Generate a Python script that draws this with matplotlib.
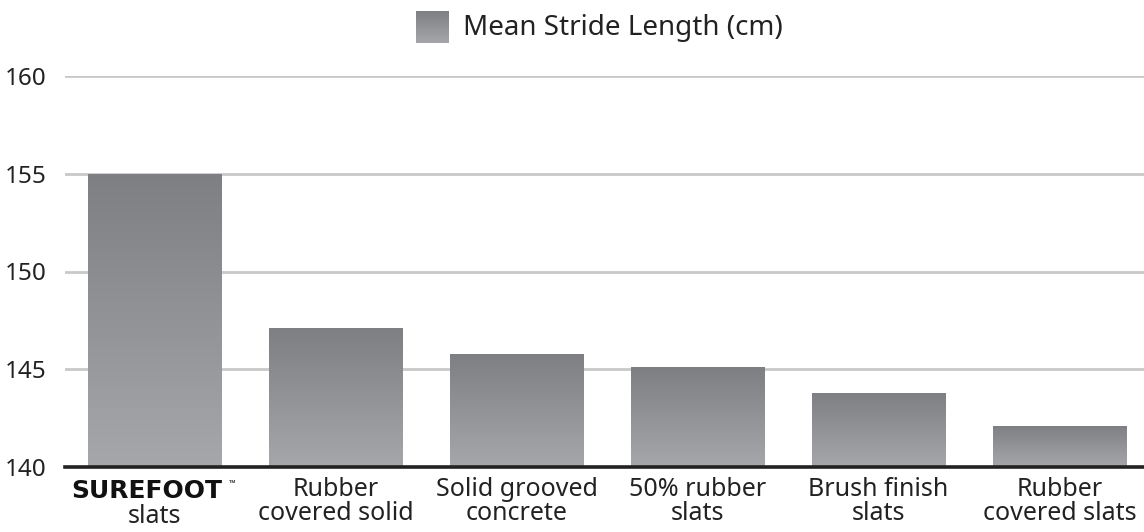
import numpy as np
import matplotlib.pyplot as plt
from matplotlib.colors import LinearSegmentedColormap

# data
categories = ["SUREFOOT slats", "Rubber\ncovered solid", "Solid grooved\nconcrete",
              "50% rubber\nslats", "Brush finish\nslats", "Rubber\ncovered slats"]
stride_cm = [155.0, 147.1, 145.8, 145.1, 143.8, 142.1]
yticks = [140, 145, 150, 155, 160]
series_name = "Mean Stride Length (cm)"

plt.rcParams['font.family'] = ['Noto Sans', 'DejaVu Sans']

fig = plt.figure(figsize=(11.44, 5.32), dpi=100)
ax = fig.add_axes([65 / 1144, 1 - 467 / 532, 1 - 65 / 1144, (467 - 76) / 532])

# top darker, bottom lighter
cmap = LinearSegmentedColormap.from_list("bar", ["#a6a7ab", "#7e7f83"])
grad = np.linspace(0, 1, 256).reshape(-1, 1)

x = np.arange(len(categories))
ymin = 140
bars = ax.bar(x, np.array(stride_cm) - ymin, bottom=ymin, width=0.735,
              color="none", edgecolor="none", zorder=3)
for b in bars:
    x0, y0 = b.get_x(), b.get_y()
    im = ax.imshow(grad, extent=[x0, x0 + b.get_width(), y0, y0 + b.get_height()],
                   origin="lower", aspect="auto", cmap=cmap, zorder=3)
    im.set_clip_path(b)

ax.set_xlim(-0.494, 5.467)
ax.set_ylim(140, 160)
ax.set_yticks(yticks)
ax.set_yticklabels([str(v) for v in yticks], fontsize=17.5, color="#222222")
ax.tick_params(axis="y", length=0, pad=13)
ax.set_xticks([])
ax.yaxis.grid(True, color="#c9c9c9", linewidth=2)
ax.set_axisbelow(True)
for s in ax.spines.values():
    s.set_visible(False)
ax.axhline(140, color="#222222", linewidth=2.6, zorder=4, clip_on=False)

# category labels
tr = ax.get_xaxis_transform()
for i, lab in enumerate(categories):
    if i == 0:
        ax.text(i - 0.04, -0.03, "SUREFOOT", transform=tr, ha="center", va="top",
                fontsize=18, fontweight="black", family=["DejaVu Sans"], color="#111111")
        ax.text(i + 0.43, -0.03, "™", transform=tr, ha="center", va="top",
                fontsize=6, color="#111111")
        ax.text(i, -0.095, "slats", transform=tr, ha="center", va="top",
                fontsize=18, color="#222222")
    else:
        ax.text(i, -0.025, lab, transform=tr, ha="center", va="top",
                fontsize=18, color="#222222", linespacing=0.95)

# legend: gradient square + label
lax = fig.add_axes([416 / 1144, 1 - 43 / 532, 33 / 1144, 32 / 532])
lax.imshow(grad, origin="lower", aspect="auto", cmap=cmap)
lax.set_axis_off()
fig.text(463 / 1144, 1 - 28 / 532, series_name, ha="left", va="center",
         fontsize=20, color="#222222")

fig.savefig("out.png", dpi=100)
